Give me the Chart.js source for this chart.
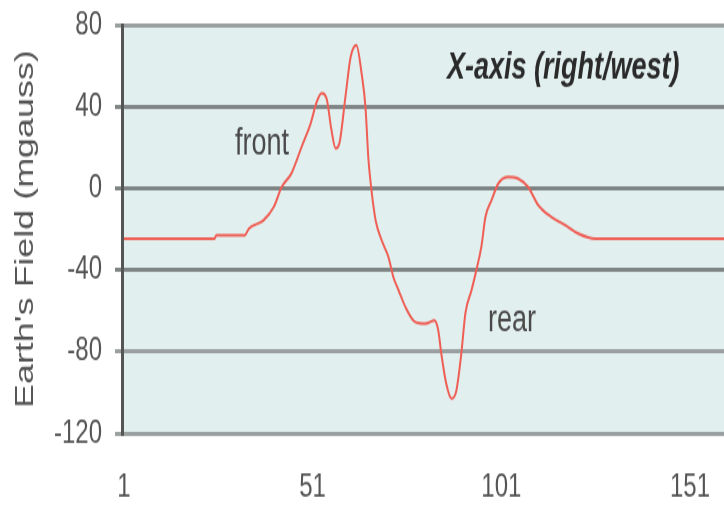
<!DOCTYPE html>
<html>
<head>
<meta charset="utf-8">
<script src="https://cdn.jsdelivr.net/npm/chart.js@4"></script>
<style>
  html, body { margin: 0; padding: 0; background: #fff; }
  #wrap { width: 724px; height: 505px; overflow: hidden; position: relative; }
  /* the source picture is stretched vertically, so draw flat and stretch */
  #inner { width: 724px; height: 366px; transform: scaleY(1.3798); transform-origin: 0 0; }
</style>
</head>
<body>
<div id="wrap"><div id="inner"><canvas id="chart" width="724" height="366"></canvas></div></div>
<script>
// sample index along the x axis
const samples = [
  1, 25, 25.5, 33, 34.1, 38, 40.7, 42.8, 45.4, 48.1, 50.5, 52.1, 53.4, 54.7,
  56, 57.1, 58.1, 59.7, 61.1, 62.6, 64, 65, 65.8, 66.6, 67.7, 69.3, 71.1,
  72.4, 73.8, 75.6, 78.2, 80.9, 83.3, 84.3, 85.1, 86.4, 87.8, 89.1, 90.4,
  91.5, 93.1, 94.4, 95.7, 96.8, 98.4, 100.2, 102.9, 105.5, 108.1, 110.8,
  114.2, 117.9, 121.4, 125.9, 140, 160
];
// earth's field, mgauss
const field = [
  -24.7, -24.7, -23, -23, -19.8, -15.7, -9.2, 0.6, 7.3, 20.3, 31.8, 42.3, 46.5, 44,
  28.4, 19.6, 22, 44.8, 64.4, 70, 56, 39.9, 14, -1, -15.7, -25.5, -33.7,
  -43.5, -50, -58.2, -65.5, -66.3, -64.7, -69.6, -81, -95.6, -103, -99, -81,
  -61, -50, -40, -28.8, -14, -5.9, 2.3, 5.5, 4.7, 0.6, -8.3,
  -14, -18, -22.2, -24.7, -24.7, -24.7
];
const xTicks = [1, 51, 101, 151];
const lightLines = [80, -80, -120];

const points = samples.map((x, i) => ({ x: x, y: field[i] }));

const plotBg = {
  id: "plotBg",
  beforeDraw(chart) {
    const { ctx, chartArea: a } = chart;
    ctx.save();
    ctx.fillStyle = "#e2efef";
    ctx.fillRect(a.left, a.top, a.right - a.left, a.bottom - a.top);
    ctx.restore();
  },
};

const notes = {
  id: "notes",
  afterDraw(chart) {
    const ctx = chart.ctx;
    ctx.save();
    ctx.textAlign = "left";
    ctx.textBaseline = "alphabetic";
    ctx.fillStyle = "#2a2a2a";
    ctx.font = "italic bold 27px 'Liberation Sans', Arial, sans-serif";
    ctx.fillText("X-axis (right/west)", 447, 56.5);
    ctx.fillStyle = "#4a4a4a";
    ctx.font = "27px 'Liberation Sans', Arial, sans-serif";
    ctx.fillText("front", 235, 112.3);
    ctx.fillText("rear", 488, 240.4);
    ctx.restore();
  },
};

new Chart(document.getElementById("chart"), {
  type: "line",
  data: {
    datasets: [
      {
        data: points,
        borderColor: "#ef5f55",
        borderWidth: 2,
        pointRadius: 0,
        cubicInterpolationMode: "monotone",
        fill: false,
      },
    ],
  },
  options: {
    responsive: false,
    animation: false,
    devicePixelRatio: 1,
    layout: { padding: { top: 18, left: 0, right: 0, bottom: 0 } },
    plugins: { legend: { display: false }, tooltip: { enabled: false } },
    scales: {
      x: {
        type: "linear",
        min: 0.5,
        max: 160,
        afterBuildTicks: (scale) => {
          scale.ticks = xTicks.map((v) => ({ value: v }));
        },
        afterFit: (scale) => {
          scale.height = 52;
          scale.paddingLeft = 0;
          scale.paddingRight = 0;
        },
        grid: { display: false },
        border: { display: false },
        ticks: {
          padding: 17,
          color: "#555",
          font: { family: "'Liberation Sans', Arial, sans-serif", size: 24 },
          maxRotation: 0,
        },
      },
      y: {
        min: -120,
        max: 80,
        afterFit: (scale) => {
          scale.width = 122;
          scale.paddingTop = 0;
          scale.paddingBottom = 0;
        },
        ticks: {
          stepSize: 40,
          padding: 13,
          color: "#555",
          font: { family: "'Liberation Sans', Arial, sans-serif", size: 24 },
        },
        grid: {
          color: (c) => (lightLines.includes(c.tick && c.tick.value) ? "#9a9f9f" : "#7f8484"),
          lineWidth: 3,
          tickLength: 7,
        },
        border: { color: "#555", width: 3 },
        title: {
          display: true,
          text: "Earth's Field (mgauss)",
          color: "#555",
          padding: { top: 10, bottom: 0 },
          font: { family: "'Liberation Sans', Arial, sans-serif", size: 26 },
        },
      },
    },
  },
  plugins: [plotBg, notes],
});
</script>
</body>
</html>
